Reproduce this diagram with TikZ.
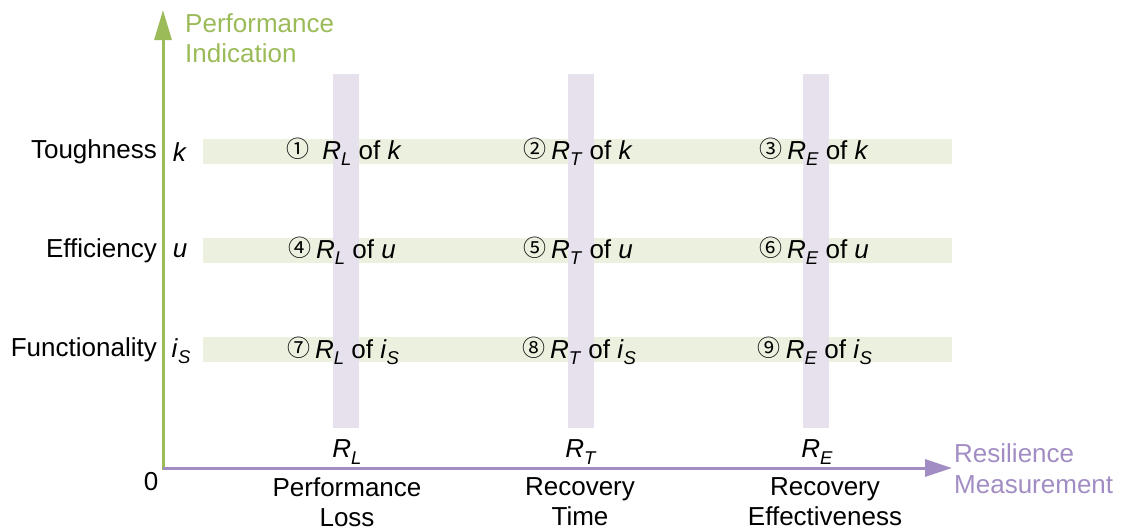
\documentclass[tikz,border=0pt]{standalone}
\usepackage{fontspec}
\setmainfont{Liberation Sans}
\newfontfamily\circfont{Noto Sans CJK SC}
\usetikzlibrary{arrows.meta}
\definecolor{axgreen}{HTML}{9BBB59}
\definecolor{axpurple}{HTML}{A18DC3}
\definecolor{rowfill}{HTML}{EBF1DE}
\definecolor{colfill}{HTML}{E6E1EC}
% italic letter with italic subscript
\newcommand{\isub}[2]{\textit{#1}\raisebox{-0.45ex}{\fontsize{18.5}{18.5}\selectfont\textit{#2}}}
\newcommand{\circnum}[1]{\raisebox{0.1ex}{\circfont\fontsize{23}{23}\selectfont #1}\hspace{5pt}}
\begin{document}
\begin{tikzpicture}[x=1pt,y=-1pt,
  txt/.style={inner sep=0pt,font=\fontsize{26}{30}\selectfont},
  rowbar/.style={fill=rowfill,draw=none},
  colbar/.style={fill=colfill,draw=none},
  axis/.style={line width=3pt},
  celltxt/.style={txt,anchor=center}]
\useasboundingbox (0,0) rectangle (1121,531);
% horizontal bands
\foreach \yy in {151,250,349}
  \fill[rowbar] (203,\yy-12.5) rectangle (952,\yy+12.5);
% vertical bands (on top)
\foreach \xx in {346,581,816}
  \fill[colbar] (\xx-13,74) rectangle (\xx+13,428);
% axes
\coordinate (o) at (163,468);
\coordinate (ytip) at (163,10);
\coordinate (xtip) at (952,468);
\draw[axis,axgreen,-{Triangle[length=30pt,width=17pt]}] (163,469.5) -- (ytip);
\draw[axis,axpurple,-{Triangle[length=27pt,width=17pt]}] (o) -- (xtip);
\node[txt,anchor=center] (zero) at (151,482) {0};
\node[txt,anchor=west,align=left,text=axgreen,font=\fontsize{26}{30}\selectfont] (ylab) at (185,38) {Performance\\Indication};
\node[txt,anchor=west,align=left,text=axpurple,font=\fontsize{26}{31}\selectfont] (xlab) at (954,469) {Resilience\\Measurement};
% row labels
\node[txt,anchor=east] (tough) at (157,152) {Toughness};
\node[txt,anchor=east] (eff) at (157,251) {Efficiency};
\node[txt,anchor=east] (func) at (157,350) {Functionality};
\node[txt] (k) at (180,152) {\textit{k}};
\node[txt] (u) at (180,251) {\textit{u}};
\node[txt] (is) at (181,351) {\isub{i}{S}};
% cells
\node[celltxt] (c1) at (344,152) {\circnum{①}\hspace{8pt}\isub{R}{L} of \textit{k}};
\node[celltxt] (c2) at (578,152) {\circnum{②}\isub{R}{T} of \textit{k}};
\node[celltxt] (c3) at (814,152) {\circnum{③}\isub{R}{E} of \textit{k}};
\node[celltxt] (c4) at (342,251) {\circnum{④}\isub{R}{L} of \textit{u}};
\node[celltxt] (c5) at (578,251) {\circnum{⑤}\isub{R}{T} of \textit{u}};
\node[celltxt] (c6) at (814,251) {\circnum{⑥}\isub{R}{E} of \textit{u}};
\node[celltxt] (c7) at (343,351) {\circnum{⑦}\isub{R}{L} of \isub{i}{S}};
\node[celltxt] (c8) at (579,351) {\circnum{⑧}\isub{R}{T} of \isub{i}{S}};
\node[celltxt] (c9) at (815,351) {\circnum{⑨}\isub{R}{E} of \isub{i}{S}};
% column symbols
\node[txt] (rl) at (347,452) {\isub{R}{L}};
\node[txt] (rt) at (581,452) {\isub{R}{T}};
\node[txt] (re) at (817,452) {\isub{R}{E}};
% column names
\node[txt,align=center,font=\fontsize{26}{30}\selectfont] (pl) at (347,502) {Performance\\Loss};
\node[txt,align=center,font=\fontsize{26}{30}\selectfont] (rtm) at (580,502) {Recovery\\Time};
\node[txt,align=center,font=\fontsize{26}{30}\selectfont] (ref) at (825,502) {Recovery\\Effectiveness};
\end{tikzpicture}
\end{document}
